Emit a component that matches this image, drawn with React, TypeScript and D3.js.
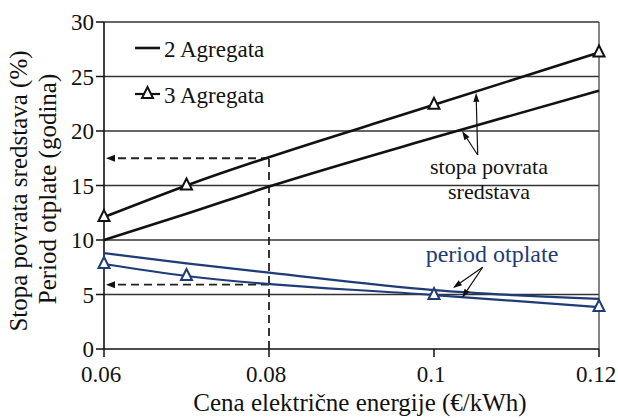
import React from "react";
import * as d3 from "d3";

// ---- data ----
const xTicks = [0.06, 0.08, 0.1, 0.12];
const xTickLabels = ["0.06", "0.08", "0.1", "0.12"];
const yTicks = [0, 5, 10, 15, 20, 25, 30];

const x2 = [0.06, 0.07, 0.08, 0.1, 0.12];
const stopa2 = [10.0, 12.4, 14.9, 19.4, 23.7];
const period2 = [8.8, 7.85, 7.0, 5.4, 4.6];

const x3 = [0.06, 0.07, 0.1, 0.12];
const stopa3 = [12.1, 15.0, 22.4, 27.2];
const period3 = [7.8, 6.7, 4.95, 3.85];

// dashed reading guide at 0.08
const guideX = 0.08;
const guideStopa = 17.5;
const guidePeriod = 5.9;

// annotation arrows (data coords): origin then tips
const stopaArrowFrom = [0.1053, 17.8];
const stopaArrowTips = [[0.1051, 23.5], [0.1034, 20.0]];
const periodArrowFrom = [0.1059, 7.5];
const periodArrowTips = [[0.1023, 5.6], [0.1034, 4.7]];

const BLUE = "#1f3c78";
const FONT = "Liberation Serif, DejaVu Serif, serif";

export default function App() {
  const W = 618, H = 418;
  const x = d3.scaleLinear().domain([0.06, 0.12]).range([104, 599]);
  const y = d3.scaleLinear().domain([0, 30]).range([349, 22]);

  const line = (xs: number[], ys: number[]) =>
    d3.line<number>().x((_, i) => x(xs[i])).y((v) => y(v)).curve(d3.curveMonotoneX)(ys) || "";

  const tri = (cx: number, cy: number, c: string, k: string) => (
    <path key={k} d={`M${cx},${cy - 7} L${cx + 5.5},${cy + 4} L${cx - 5.5},${cy + 4} Z`}
      fill="white" stroke={c} strokeWidth={2} />
  );

  const arrow = (from: number[], to: number[], k: string) => {
    const x1 = x(from[0]), y1 = y(from[1]), x2p = x(to[0]), y2p = y(to[1]);
    const ang = Math.atan2(y2p - y1, x2p - x1);
    const L = 9, Wd = 3;
    const bx = x2p - L * Math.cos(ang), by = y2p - L * Math.sin(ang);
    const px = -Math.sin(ang) * Wd, py = Math.cos(ang) * Wd;
    return (
      <g key={k}>
        <line x1={x1} y1={y1} x2={bx} y2={by} stroke="#111" strokeWidth={1.2} />
        <path d={`M${x2p},${y2p} L${bx + px},${by + py} L${bx - px},${by - py} Z`} fill="#111" />
      </g>
    );
  };

  const leftHead = (yy: number) => {
    const tx = x(0.06) + 2;
    return <path d={`M${tx},${yy} L${tx + 9},${yy - 3.5} L${tx + 9},${yy + 3.5} Z`} fill="#111" />;
  };

  const ts = { fontFamily: FONT };

  return (
    <svg width={W} height={H} style={{ display: "block", position: "absolute", left: 0, top: 0, fontFamily: FONT }}>
      <rect width={W} height={H} fill="white" />
      {/* grid */}
      {yTicks.filter((t) => t > 0).map((t) => (
        <line key={"g" + t} x1={x(0.06)} x2={x(0.12)} y1={y(t)} y2={y(t)} stroke="#333" strokeWidth={1.3} />
      ))}
      <line x1={x(0.12)} x2={x(0.12)} y1={y(30)} y2={y(0)} stroke="#444" strokeWidth={1.3} />
      {/* axes */}
      <line x1={x(0.06)} x2={x(0.06)} y1={y(30)} y2={y(0)} stroke="#111" strokeWidth={1.6} />
      <line x1={x(0.06)} x2={x(0.12)} y1={y(0)} y2={y(0)} stroke="#111" strokeWidth={1.6} />
      {yTicks.map((t) => (
        <g key={"yt" + t}>
          <line x1={x(0.06) - 8} x2={x(0.06)} y1={y(t)} y2={y(t)} stroke="#111" strokeWidth={1.5} />
          <text x={94} y={y(t) + 8} textAnchor="end" fontSize={23} fill="#111" style={ts}>{t}</text>
        </g>
      ))}
      {xTicks.map((t, i) => (
        <g key={"xt" + t}>
          <line x1={x(t)} x2={x(t)} y1={y(0)} y2={y(0) + 8} stroke="#111" strokeWidth={1.5} />
          <text x={x(t) - 3} y={382} textAnchor="middle" fontSize={23} fill="#111" style={ts}>{xTickLabels[i]}</text>
        </g>
      ))}
      {/* dashed guides */}
      <line x1={x(guideX)} x2={x(guideX)} y1={y(0)} y2={y(guideStopa)} stroke="#222" strokeWidth={1.8} strokeDasharray="8,5" />
      <line x1={x(guideX)} x2={x(0.06) + 10} y1={y(guideStopa)} y2={y(guideStopa)} stroke="#222" strokeWidth={1.8} strokeDasharray="8,5" />
      <line x1={x(guideX)} x2={x(0.06) + 10} y1={y(guidePeriod)} y2={y(guidePeriod)} stroke="#222" strokeWidth={1.8} strokeDasharray="8,5" />
      {leftHead(y(guideStopa))}
      {leftHead(y(guidePeriod))}
      {/* series */}
      <path d={line(x2, stopa2)} fill="none" stroke="#111" strokeWidth={2.6} />
      <path d={line(x3, stopa3)} fill="none" stroke="#111" strokeWidth={2.6} />
      <path d={line(x2, period2)} fill="none" stroke={BLUE} strokeWidth={2.2} />
      <path d={line(x3, period3)} fill="none" stroke={BLUE} strokeWidth={2.2} />
      {x3.map((v, i) => tri(x(v), y(stopa3[i]), "#111", "ts" + i))}
      {x3.map((v, i) => tri(x(v), y(period3[i]), BLUE, "tp" + i))}
      {/* annotations */}
      {stopaArrowTips.map((t, i) => arrow(stopaArrowFrom, t, "sa" + i))}
      {periodArrowTips.map((t, i) => arrow(periodArrowFrom, t, "pa" + i))}
      <text x={489} y={174} textAnchor="middle" fontSize={22} fill="#111" style={ts}>stopa povrata</text>
      <text x={489} y={199} textAnchor="middle" fontSize={22} fill="#111" style={ts}>sredstava</text>
      <text x={492} y={262} textAnchor="middle" fontSize={24} fill={BLUE} style={ts}>period otplate</text>
      {/* legend */}
      <line x1={135} x2={160} y1={48} y2={48} stroke="#111" strokeWidth={2.6} />
      <text x={164} y={57} fontSize={23} fill="#111" style={ts}>2 Agregata</text>
      <line x1={135} x2={160} y1={94} y2={94} stroke="#111" strokeWidth={2.2} />
      {tri(147.5, 94, "#111", "lg")}
      <text x={164} y={103} fontSize={23} fill="#111" style={ts}>3 Agregata</text>
      {/* axis titles */}
      <text x={360} y={411} textAnchor="middle" fontSize={25} fill="#111" style={ts}>Cena električne energije (€/kWh)</text>
      <text transform="translate(27,191) rotate(-90)" textAnchor="middle" fontSize={25} fill="#111" style={ts}>Stopa povrata sredstava (%)</text>
      <text transform="translate(56,189) rotate(-90)" textAnchor="middle" fontSize={25} fill="#111" style={ts}>Period otplate (godina)</text>
    </svg>
  );
}
